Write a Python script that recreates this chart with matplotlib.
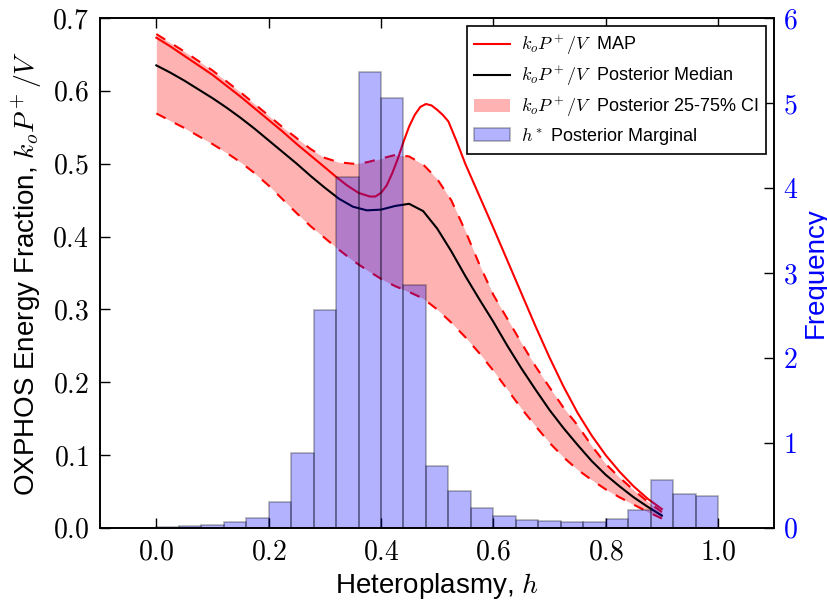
import matplotlib
matplotlib.use('Agg')
import matplotlib.pyplot as plt
from matplotlib.ticker import FuncFormatter, MultipleLocator

plt.rcParams['font.family'] = ['Liberation Sans', 'DejaVu Sans']
plt.rcParams['mathtext.fontset'] = 'cm'
plt.rcParams['axes.linewidth'] = 1.2

# k_o P+/V curves
h = [0.0, 0.025, 0.05, 0.075, 0.1, 0.125, 0.15, 0.175, 0.2, 0.225, 0.25, 0.275,
     0.3, 0.325, 0.35, 0.375, 0.4, 0.425, 0.45, 0.475, 0.5, 0.525, 0.55, 0.575,
     0.6, 0.625, 0.65, 0.675, 0.7, 0.725, 0.75, 0.775, 0.8, 0.825, 0.85, 0.875, 0.9]
median = [0.635, 0.625, 0.614, 0.602, 0.590, 0.577, 0.563, 0.548, 0.532, 0.516,
          0.500, 0.483, 0.467, 0.452, 0.441, 0.436, 0.437, 0.442, 0.445, 0.435,
          0.411, 0.380, 0.346, 0.314, 0.283, 0.250, 0.219, 0.190, 0.162, 0.137,
          0.114, 0.092, 0.073, 0.057, 0.042, 0.029, 0.017]
lower = [0.569, 0.559, 0.549, 0.538, 0.527, 0.515, 0.502, 0.487, 0.470, 0.451,
         0.432, 0.414, 0.398, 0.382, 0.367, 0.354, 0.342, 0.332, 0.324, 0.315,
         0.300, 0.282, 0.262, 0.240, 0.216, 0.190, 0.164, 0.140, 0.117, 0.097,
         0.080, 0.066, 0.053, 0.042, 0.032, 0.022, 0.013]
upper = [0.678, 0.666, 0.654, 0.641, 0.628, 0.613, 0.598, 0.582, 0.566, 0.550,
         0.535, 0.520, 0.508, 0.502, 0.500, 0.502, 0.507, 0.512, 0.510, 0.499,
         0.479, 0.450, 0.408, 0.362, 0.320, 0.287, 0.254, 0.222, 0.193, 0.165,
         0.141, 0.113, 0.088, 0.069, 0.052, 0.036, 0.022]

h_map = [0.0, 0.025, 0.05, 0.075, 0.1, 0.125, 0.15, 0.175, 0.2, 0.225, 0.25,
         0.275, 0.3, 0.32, 0.34, 0.36, 0.38, 0.39, 0.4, 0.41, 0.42, 0.43, 0.44,
         0.45, 0.46, 0.47, 0.48, 0.49, 0.5, 0.51, 0.52, 0.535, 0.55, 0.575, 0.6,
         0.625, 0.65, 0.675, 0.7, 0.725, 0.75, 0.775, 0.8, 0.825, 0.85, 0.875, 0.9]
k_map = [0.673, 0.661, 0.648, 0.635, 0.622, 0.607, 0.592, 0.576, 0.560, 0.544,
         0.527, 0.511, 0.495, 0.482, 0.470, 0.460, 0.455, 0.455, 0.460, 0.470,
         0.487, 0.507, 0.530, 0.551, 0.567, 0.578, 0.582, 0.580, 0.574, 0.567,
         0.558, 0.530, 0.500, 0.456, 0.412, 0.367, 0.322, 0.277, 0.234, 0.194,
         0.158, 0.127, 0.100, 0.077, 0.057, 0.040, 0.026]

# h* posterior marginal histogram
bin_left = [i * 0.04 for i in range(25)]
freq = [0.01, 0.025, 0.04, 0.075, 0.12, 0.30, 0.88, 2.57, 4.13, 5.36, 5.06, 2.86,
        0.73, 0.43, 0.24, 0.14, 0.095, 0.082, 0.075, 0.075, 0.10, 0.21, 0.56,
        0.40, 0.38]

fig = plt.figure(figsize=(8.28, 6.01), dpi=100)
ax = fig.add_axes([0.121, 0.1215, 0.814, 0.8485])

ax.fill_between(h, lower, upper, color='red', alpha=0.3, lw=0,
                label=r'$k_oP^+/V$ Posterior 25-75% CI')
ax.plot(h, lower, color='red', ls='--', lw=1.5, dashes=(5, 5))
ax.plot(h, upper, color='red', ls='--', lw=1.5, dashes=(5, 5))
ax.plot(h_map, k_map, color='red', lw=1.5, label=r'$k_oP^+/V$ MAP')
ax.plot(h, median, color='black', lw=1.5, label=r'$k_oP^+/V$ Posterior Median')

ax.set_xlim(-0.1, 1.1)
ax.set_ylim(0, 0.7)
ax.xaxis.set_major_locator(MultipleLocator(0.2))
ax.yaxis.set_major_locator(MultipleLocator(0.1))
fmt = FuncFormatter(lambda v, p: '$%.1f$' % (abs(v) if abs(v) < 1e-9 else v))
ax.xaxis.set_major_formatter(fmt)
ax.yaxis.set_major_formatter(fmt)
ax.tick_params(direction='in', top=True, right=False, labelsize=20, length=7,
               width=1, pad=8)
ax.set_xlabel(r'Heteroplasmy, $h$', fontsize=20, labelpad=4)
ax.set_ylabel(r'OXPHOS Energy Fraction, $k_oP^+/V$', fontsize=20, labelpad=6)

ax2 = ax.twinx()
ax2.bar(bin_left, freq, width=0.04, align='edge', color='blue', alpha=0.3,
        edgecolor='black', lw=1.2, label=r'$h^*$ Posterior Marginal')
ax2.set_ylim(0, 6)
ax2.yaxis.set_major_locator(MultipleLocator(1))
ax2.yaxis.set_major_formatter(FuncFormatter(lambda v, p: '$%d$' % v))
ax2.tick_params(direction='in', labelsize=20, labelcolor='blue', length=7,
                width=1, pad=6)
ax2.set_ylabel('Frequency', color='blue', fontsize=20, labelpad=4)

handles1, labels1 = ax.get_legend_handles_labels()
handles2, labels2 = ax2.get_legend_handles_labels()
order = [1, 2, 0]
handles = [handles1[i] for i in order] + handles2
labels = [labels1[i].replace('$ ', r'\ $ ') for i in order] + labels2
leg = ax2.legend(handles, labels, loc='upper right', fontsize=13, fancybox=False,
                 edgecolor='black', framealpha=1, borderaxespad=0.45,
                 handletextpad=0.6, labelspacing=0.4)
leg.get_frame().set_linewidth(1.2)

fig.savefig('out.png', dpi=100)
